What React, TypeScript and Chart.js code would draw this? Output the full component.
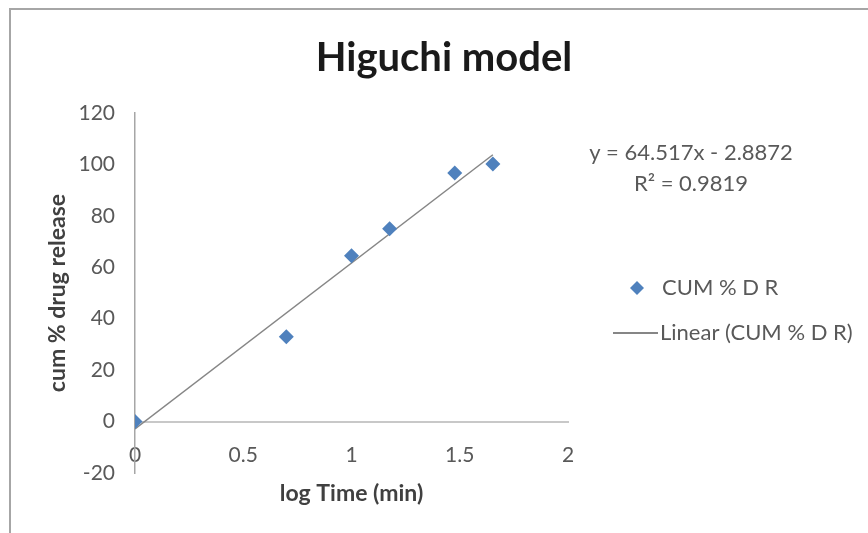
import React, { useEffect, useRef } from "react";
import { Chart, registerables } from "chart.js";

Chart.register(...registerables);

// log time (min) and cumulative % drug release
const logTime = [0, 0.699, 1, 1.176, 1.477, 1.653];
const cumRelease = [0, 33, 64.5, 75, 96.7, 100.2];

// least-squares trend line as reported on the chart
const slope = 64.517;
const intercept = -2.8872;
const rSquared = 0.9819;

const xTicks = [0, 0.5, 1, 1.5, 2];
const yTicks = [-20, 0, 20, 40, 60, 80, 100, 120];

const chartTitle = "Higuchi model";
const seriesName = "CUM % D R";
const FONT = "Lato, 'Open Sans', sans-serif";
const GREY_TEXT = "#595959";
const MARKER = "#4F81BD";
const TREND = "#868686";

const decorations = {
  id: "decorations",
  beforeDraw(chart: any) {
    const { ctx, width, height } = chart;
    ctx.save();
    ctx.fillStyle = "#ffffff";
    ctx.fillRect(0, 0, width, height);
    // chart frame (top and left edges)
    ctx.strokeStyle = "#a6a6a6";
    ctx.lineWidth = 2;
    ctx.beginPath();
    ctx.moveTo(10, height);
    ctx.lineTo(10, 9);
    ctx.lineTo(width, 9);
    ctx.stroke();
    ctx.restore();
  },
  afterDraw(chart: any) {
    const { ctx } = chart;
    ctx.save();
    ctx.textBaseline = "middle";
    ctx.textAlign = "center";

    ctx.fillStyle = "#1a1a1a";
    ctx.font = `bold 40px ${FONT}`;
    ctx.fillText(chartTitle, 444, 58);

    ctx.fillStyle = GREY_TEXT;
    ctx.font = `22px ${FONT}`;
    const sign = intercept < 0 ? "-" : "+";
    ctx.fillText(`y = ${slope}x ${sign} ${Math.abs(intercept)}`, 691, 153);
    ctx.fillText(`R² = ${rSquared}`, 691, 184);

    // legend
    ctx.textAlign = "left";
    const dx = 637, dy = 288, r = 7;
    ctx.fillStyle = MARKER;
    ctx.beginPath();
    ctx.moveTo(dx, dy - r);
    ctx.lineTo(dx + r, dy);
    ctx.lineTo(dx, dy + r);
    ctx.lineTo(dx - r, dy);
    ctx.closePath();
    ctx.fill();
    ctx.fillStyle = GREY_TEXT;
    ctx.fillText(seriesName, 662, dy);

    ctx.strokeStyle = TREND;
    ctx.lineWidth = 2;
    ctx.beginPath();
    ctx.moveTo(613, 333);
    ctx.lineTo(658, 333);
    ctx.stroke();
    ctx.fillText(`Linear (${seriesName})`, 660, 333);
    ctx.restore();
  },
};

export default function App() {
  const ref = useRef<HTMLCanvasElement>(null);

  useEffect(() => {
    if (!ref.current) return;
    const xMaxData = Math.max(...logTime);
    const xMinData = Math.min(...logTime);
    const chart = new Chart(ref.current, {
      type: "scatter",
      data: {
        datasets: [
          {
            label: seriesName,
            data: logTime.map((x, i) => ({ x, y: cumRelease[i] })),
            pointStyle: "rectRot",
            pointRadius: 7.5,
            pointBackgroundColor: MARKER,
            pointBorderColor: MARKER,
            pointBorderWidth: 0,
            showLine: false,
            order: 0,
          },
          {
            label: `Linear (${seriesName})`,
            data: [
              { x: xMinData, y: slope * xMinData + intercept },
              { x: xMaxData, y: slope * xMaxData + intercept },
            ],
            showLine: true,
            borderColor: TREND,
            borderWidth: 1.5,
            pointRadius: 0,
            order: 1,
          },
        ],
      },
      options: {
        responsive: false,
        animation: false,
        layout: { padding: { left: 0, right: 300, top: 113, bottom: 60 } },
        plugins: {
          legend: { display: false },
          tooltip: { enabled: false },
          title: { display: false },
        },
        scales: {
          x: {
            type: "linear",
            position: { y: 0 },
            min: 0,
            max: 2,
            afterBuildTicks: (s: any) => {
              s.ticks = xTicks.map((v) => ({ value: v }));
            },
            grid: { display: false, drawTicks: false },
            border: { display: true, color: "#c8c8c8", width: 2 },
            ticks: {
              color: GREY_TEXT,
              font: { family: FONT, size: 21 },
              padding: 21,
              callback: (v: any) => String(v),
            },
            title: {
              display: true,
              text: "log Time (min)",
              color: "#404040",
              font: { family: FONT, size: 23, weight: "bold" },
              padding: { top: -9, bottom: 0 },
            },
          },
          y: {
            type: "linear",
            min: -20,
            max: 120,
            afterBuildTicks: (s: any) => {
              s.ticks = yTicks.map((v) => ({ value: v }));
            },
            afterFit: (s: any) => {
              s.width = 135;
            },
            grid: { display: false, drawTicks: false },
            border: { display: true, color: "#a6a6a6", width: 1.5 },
            ticks: {
              color: GREY_TEXT,
              font: { family: FONT, size: 21 },
              padding: 20,
              callback: (v: any) => String(v),
            },
            title: {
              display: true,
              text: "cum % drug release",
              color: "#404040",
              font: { family: FONT, size: 23, weight: "bold" },
              padding: { top: 44, bottom: 0 },
            },
          },
        },
      },
      plugins: [decorations],
    });
    return () => chart.destroy();
  }, []);

  return (
    <div style={{ position: "absolute", left: 0, top: 0, width: 868, height: 533 }}>
      <canvas ref={ref} width={868} height={533} />
    </div>
  );
}
